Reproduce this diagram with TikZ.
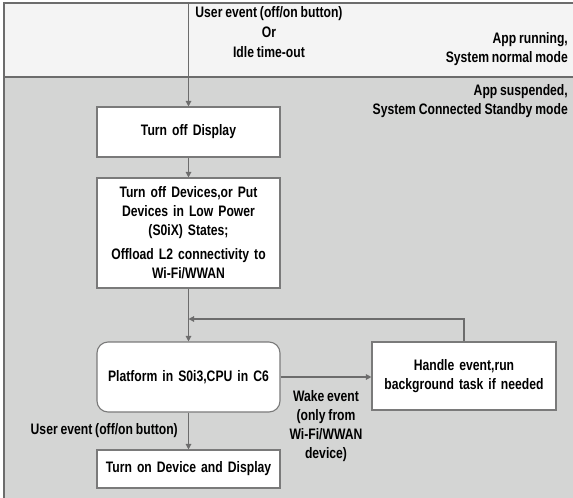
\documentclass[tikz,border=0pt]{standalone}
\usepackage{fontspec}
\setmainfont{Liberation Sans}[FakeStretch=0.80,WordSpace=0.85]
\usetikzlibrary{arrows.meta}
\definecolor{bandtop}{HTML}{F4F4F4}
\definecolor{bandlow}{HTML}{D4D5D4}
\definecolor{linegray}{HTML}{6C6C6C}
\definecolor{boxgray}{HTML}{7A7A7A}
\begin{document}
\begin{tikzpicture}[x=1pt,y=-1pt,
  font=\fontsize{15.2}{19}\selectfont\bfseries,
  box/.style={draw=boxgray, fill=white, line width=1.1pt, minimum width=183pt, align=center, inner sep=0pt, text width=180pt},
  conn/.style={draw=linegray, line width=1.2pt},
  arr/.style={conn, -{Triangle[width=5.5pt,length=5.5pt]}},
  lbl/.style={align=center, inner sep=0pt}]
\useasboundingbox (0,0) rectangle (573,498);
\fill[bandtop] (4,3) rectangle (573,77);
\fill[bandlow] (4,77) rectangle (573,498);
\draw[conn] (573,3) -- (4,3) -- (4,498);
\draw[conn] (4,77) -- (573,77);

\node[box, minimum height=50pt] (off) at (188.5,132) {Turn off Display};
\node[box, minimum height=110pt] (dev) at (188.5,233) {Turn off Devices,or Put\\Devices in Low Power\\(S0iX) States;\\[5pt]Offload L2 connectivity to\\Wi-Fi/WWAN};
\node[box, minimum height=70pt, rounded corners=11pt] (plat) at (188.5,377) {Platform in S0i3,CPU in C6};
\node[box, minimum width=184pt, minimum height=68pt] (hand) at (464,376) {Handle event,run\\background task if needed};
\node[box, minimum height=38pt] (on) at (188.5,469) {Turn on Device and Display};

\coordinate (start) at (188.5,3);
\coordinate (join) at (188.5,319);

\node[lbl] (topl) at (269,32) {User event (off/on button)\\[1pt]Or\\[1pt]Idle time-out};
\node[lbl, anchor=east, align=right] (run) at (568,49) {App running,\\System normal mode};
\node[lbl, anchor=east, align=right] (susp) at (568,101) {App suspended,\\System Connected Standby mode};
\node[lbl] (wake) at (326,426) {Wake event\\(only from\\Wi-Fi/WWAN\\device)};
\node[lbl, anchor=east] (uev) at (178,431) {User event (off/on button)};

\draw[arr] (start) -- (off);
\draw[arr] (off) -- (dev);
\draw[arr] (dev) -- (plat);
\draw[arr] (hand.north) |- (join);
\draw[arr] (plat.east) -- (plat.east -| hand.west);
\draw[arr] (plat) -- (on);
\end{tikzpicture}
\end{document}
